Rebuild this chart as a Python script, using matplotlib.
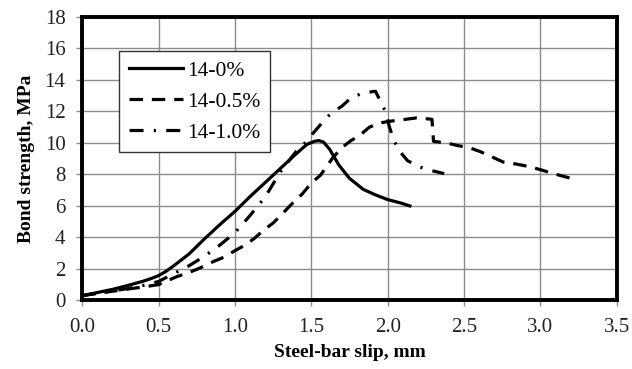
import matplotlib
matplotlib.use("Agg")
import matplotlib.pyplot as plt

# ---------- Data ----------
slip_0 = [0.0, 0.1, 0.2, 0.3, 0.4, 0.45, 0.5, 0.55, 0.6, 0.7, 0.8, 0.9, 1.0, 1.1, 1.2,
          1.3, 1.4, 1.47, 1.52, 1.55, 1.58, 1.62, 1.68, 1.75, 1.84, 1.92, 2.0, 2.08, 2.145]
bond_0 = [0.3, 0.5, 0.7, 0.95, 1.22, 1.38, 1.57, 1.85, 2.2, 2.95, 3.9, 4.8, 5.65, 6.6, 7.5,
          8.4, 9.3, 9.9, 10.1, 10.15, 10.05, 9.6, 8.6, 7.75, 7.05, 6.7, 6.4, 6.2, 6.0]

slip_05 = [0.0, 0.1, 0.2, 0.3, 0.4, 0.5, 0.62, 0.69, 0.77, 0.86, 0.93, 0.99, 1.07, 1.13,
           1.19, 1.25, 1.32, 1.38, 1.44, 1.5, 1.56, 1.64, 1.7, 1.76, 1.82, 1.88, 1.95,
           2.01, 2.1, 2.19, 2.26, 2.29, 2.30, 2.385, 2.45, 2.54, 2.61, 2.69, 2.755,
           2.84, 2.92, 3.0, 3.07, 3.15, 3.23]
bond_05 = [0.3, 0.45, 0.58, 0.72, 0.85, 1.0, 1.51, 1.73, 2.05, 2.47, 2.75, 3.1, 3.53, 3.96,
           4.48, 4.91, 5.6, 6.2, 6.75, 7.45, 7.95, 9.05, 9.7, 10.15, 10.5, 11.0, 11.27,
           11.37, 11.48, 11.59, 11.53, 11.5, 10.1, 10.0, 9.85, 9.68, 9.43, 9.08, 8.79,
           8.66, 8.51, 8.3, 8.09, 7.88, 7.67]

slip_10 = [0.0, 0.1, 0.2, 0.3, 0.4, 0.5, 0.6, 0.7, 0.8, 0.9, 1.0, 1.1, 1.2, 1.3, 1.4,
           1.47, 1.51, 1.57, 1.63, 1.70, 1.76, 1.84, 1.92, 1.96, 1.99, 2.01, 2.04,
           2.07, 2.13, 2.21, 2.28, 2.37]
bond_10 = [0.3, 0.45, 0.6, 0.75, 0.95, 1.2, 1.7, 2.2, 2.8, 3.5, 4.3, 5.4, 6.6, 8.2, 9.45,
           10.1, 10.6, 11.27, 11.9, 12.33, 12.86, 13.18, 13.28, 12.5, 11.9, 11.05, 10.2,
           9.57, 8.87, 8.47, 8.26, 8.05]

labels = ["14-0%", "14-0.5%", "14-1.0%"]
x_ticks = [0.0, 0.5, 1.0, 1.5, 2.0, 2.5, 3.0, 3.5]
y_ticks = [0, 2, 4, 6, 8, 10, 12, 14, 16, 18]

# ---------- Plot ----------
plt.rcParams["font.family"] = ["Liberation Serif", "DejaVu Serif"]

fig = plt.figure(figsize=(6.32, 3.69), dpi=100)
ax = fig.add_axes([0.130, 0.186, 0.846, 0.768])

lw = 2.3
ax.plot(slip_0, bond_0, color="black", lw=lw, ls="-", label=labels[0])
ax.plot(slip_05, bond_05, color="black", lw=lw, ls=(0, (4.2, 2.8)),
        dash_capstyle="butt", label=labels[1])
ax.plot(slip_10, bond_10, color="black", lw=lw, ls=(0, (4.4, 3.2, 0.7, 3.2)),
        dash_capstyle="butt", label=labels[2])

ax.set_xlim(0, 3.5)
ax.set_ylim(0, 18)
ax.set_xticks(x_ticks)
ax.set_xticklabels([f"{v:.1f}" for v in x_ticks])
ax.set_yticks(y_ticks)

ax.grid(True, color="#8c8c8c", lw=1.0)
ax.set_axisbelow(True)
for sp in ax.spines.values():
    sp.set_linewidth(2.8)
    sp.set_color("black")

ax.tick_params(axis="both", direction="out", length=4, width=1.0, color="#8c8c8c",
               labelsize=15, labelcolor="#222222")
ax.tick_params(axis="x", pad=9)
ax.tick_params(axis="y", pad=8)

ax.set_xlabel("Steel-bar slip, mm", fontsize=14, fontweight="bold", labelpad=5)
ax.set_ylabel("Bond strength, MPa", fontsize=14, fontweight="bold", labelpad=7)

leg = ax.legend(loc="upper left", bbox_to_anchor=(0.069, 0.879), borderaxespad=0,
                fontsize=15.5, frameon=True, fancybox=False, handlelength=2.5,
                handletextpad=0.2, labelspacing=0.5, borderpad=0.45)
leg.get_frame().set_edgecolor("#333333")
leg.get_frame().set_linewidth(1.0)
leg.get_frame().set_alpha(1)

fig.savefig("out.png", dpi=100)
